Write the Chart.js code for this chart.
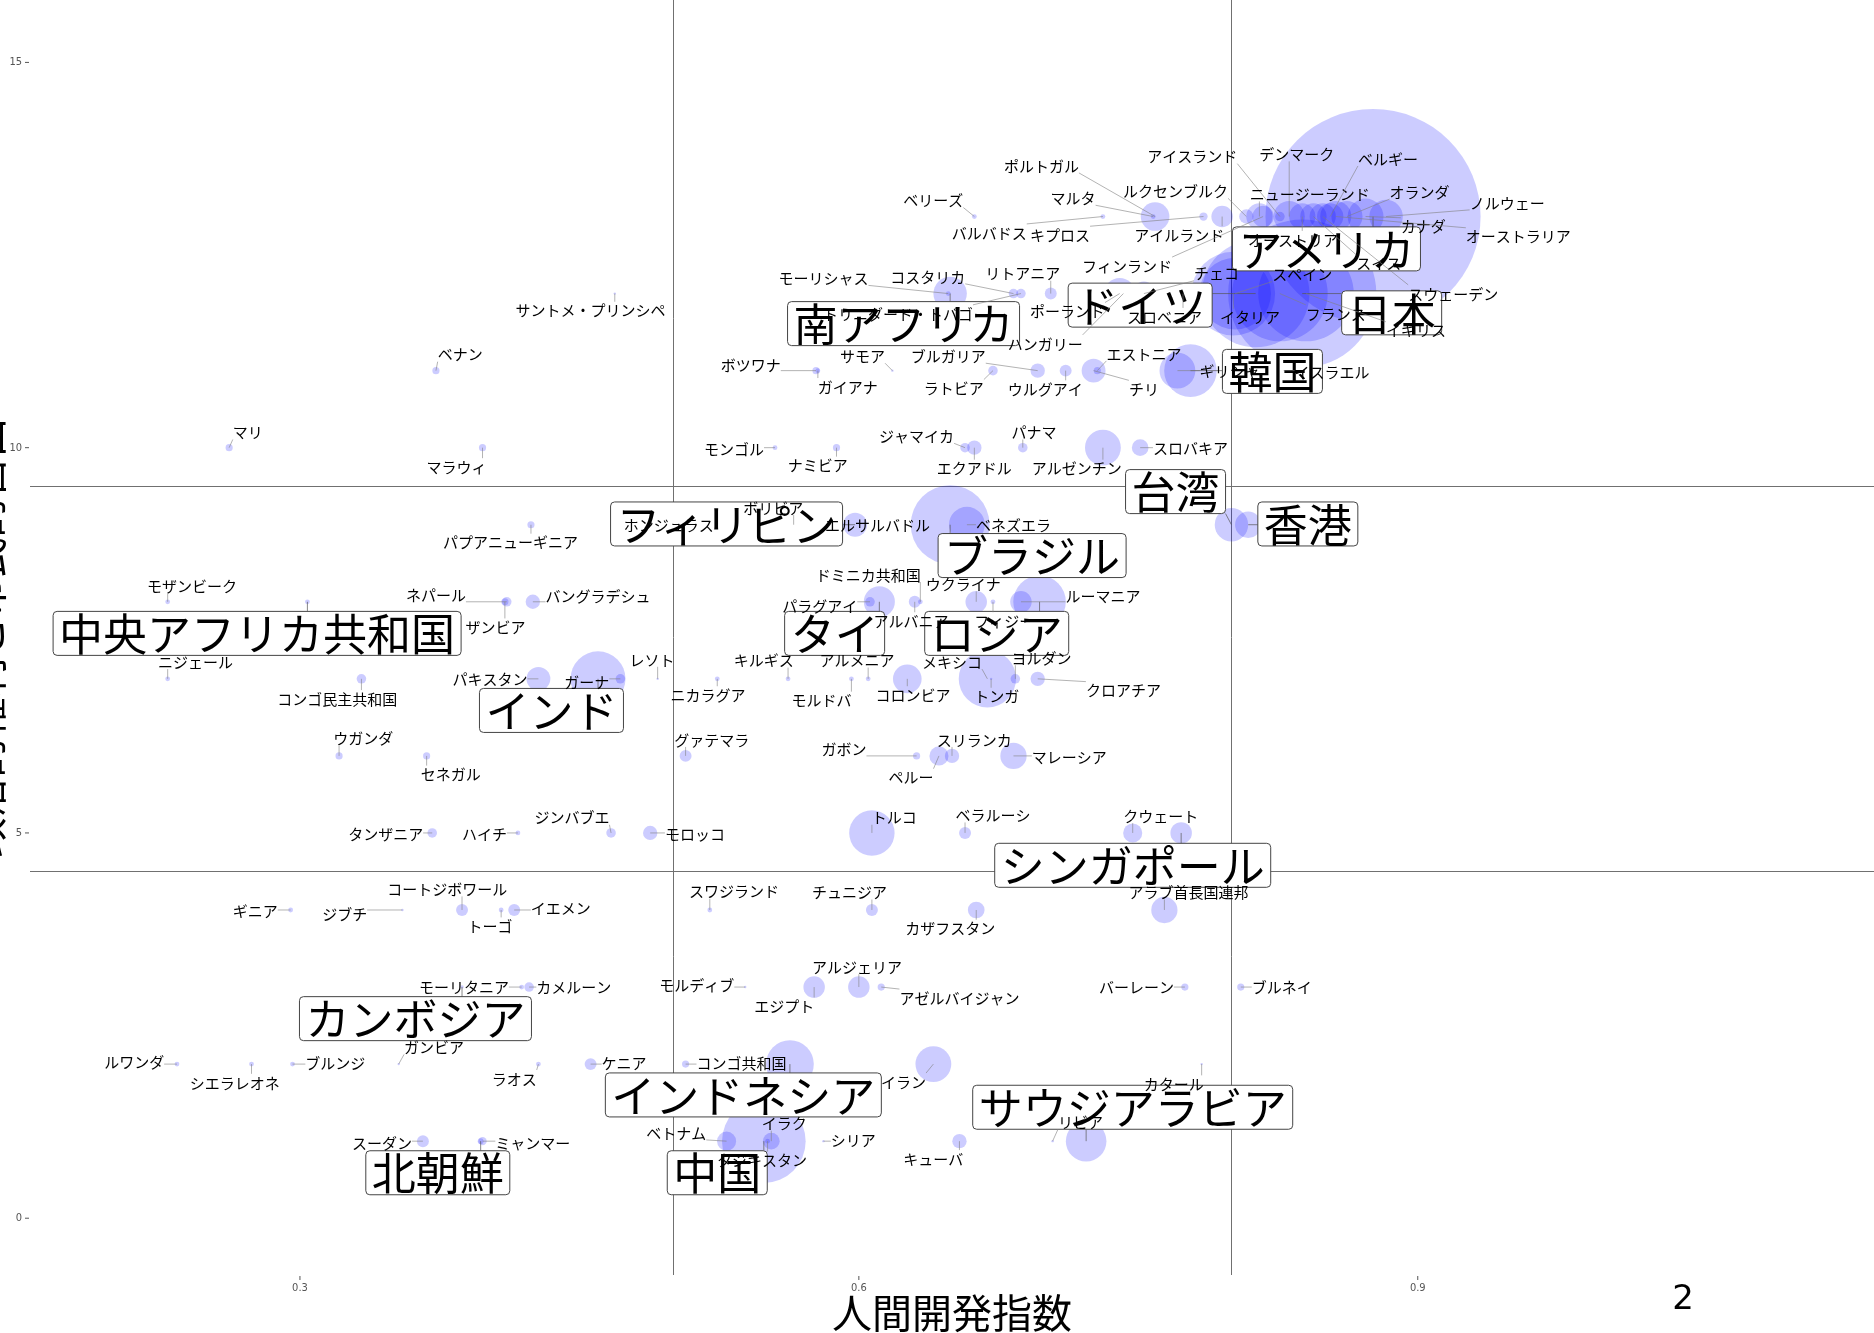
<!DOCTYPE html>
<html>
<head>
<meta charset="utf-8">
<script src="https://cdn.jsdelivr.net/npm/chart.js@4.4.1/dist/chart.umd.min.js"></script>
<style>
  html, body { margin: 0; padding: 0; background: #fff; overflow: hidden; }
  #wrap { width: 1874px; height: 1333px; }
</style>
</head>
<body>
<div id="wrap"><canvas id="hdiChart"></canvas></div>
<script>
// countries, grouped by freedom score row (13 at top ... 1 at bottom)
const countries = [
  "ポルトガル","マルタ","ベリーズ","バルバドス","キプロス","アイルランド","ルクセンブルク","アイスランド","デンマーク","ニュージーランド",
  "ベルギー","オランダ","ノルウェー","カナダ","オーストラリア","スイス","オーストリア","アメリカ","スウェーデン","フィンランド",
  "日本","ドイツ","フランス","イギリス","イタリア","スペイン","チェコ","スロベニア","ポーランド","ハンガリー",
  "リトアニア","コスタリカ","トリニダード・トバゴ","モーリシャス","南アフリカ","サントメ・プリンシペ",
  "ベナン","ボツワナ","ガイアナ","サモア","ブルガリア","ラトビア","ウルグアイ","エストニア","チリ","ギリシャ","韓国","イスラエル",
  "マリ","マラウィ","モンゴル","ナミビア","ジャマイカ","エクアドル","パナマ","アルゼンチン","スロバキア",
  "パプアニューギニア","ホンジュラス","ボリビア","フィリピン","エルサルバドル","ブラジル","ベネズエラ","台湾","香港",
  "モザンビーク","中央アフリカ共和国","ネパール","ザンビア","バングラデシュ","ドミニカ共和国","パラグアイ","タイ","アルバニア","ウクライナ","フィジー","ルーマニア","ロシア",
  "ニジェール","コンゴ民主共和国","パキスタン","インド","ガーナ","レソト","ニカラグア","キルギス","モルドバ","アルメニア","コロンビア","メキシコ","トンガ","ヨルダン","クロアチア",
  "ウガンダ","セネガル","グァテマラ","ガボン","ペルー","スリランカ","マレーシア",
  "タンザニア","ハイチ","ジンバブエ","モロッコ","トルコ","ベラルーシ","クウェート","シンガポール",
  "ギニア","ジブチ","コートジボワール","トーゴ","イエメン","スワジランド","チュニジア","カザフスタン","アラブ首長国連邦",
  "モーリタニア","カメルーン","カンボジア","モルディブ","エジプト","アルジェリア","アゼルバイジャン","バーレーン","ブルネイ",
  "ルワンダ","シエラレオネ","ブルンジ","ガンビア","ラオス","ケニア","コンゴ共和国","インドネシア","イラン","カタール",
  "スーダン","ミャンマー","北朝鮮","ベトナム","イラク","中国","タジキスタン","シリア","キューバ","リビア","サウジアラビア"
];

const hdi = [
  0.759,0.758,0.662,0.731,0.785,0.795,0.808,0.826,0.831,0.815,
  0.853,0.862,0.883,0.872,0.856,0.844,0.838,0.876,0.849,0.817,
  0.838,0.813,0.826,0.840,0.801,0.802,0.753,0.774,0.740,0.742,
  0.703,0.683,0.687,0.648,0.649,0.469,
  0.373,0.577,0.578,0.618,0.696,0.672,0.711,0.728,0.726,0.771,0.778,0.828,
  0.262,0.398,0.555,0.588,0.657,0.662,0.688,0.731,0.751,
  0.424,0.524,0.565,0.598,0.590,0.649,0.658,0.800,0.809,
  0.229,0.304,0.411,0.410,0.425,0.633,0.606,0.611,0.630,0.663,0.672,0.687,0.697,
  0.229,0.333,0.428,0.460,0.472,0.492,0.524,0.562,0.596,0.605,0.626,0.669,0.671,0.684,0.696,
  0.321,0.368,0.507,0.631,0.643,0.650,0.683,
  0.371,0.417,0.467,0.488,0.607,0.657,0.747,0.773,
  0.295,0.355,0.387,0.408,0.415,0.520,0.607,0.663,0.764,
  0.419,0.423,0.387,0.539,0.576,0.600,0.612,0.775,0.805,
  0.234,0.274,0.296,0.353,0.428,0.456,0.507,0.563,0.640,0.784,
  0.366,0.398,0.397,0.529,0.553,0.549,0.551,0.581,0.654,0.704,0.722
];

const freedom = [
  13,13,13,13,13,13,13,13,13,13,
  13,13,13,13,13,13,13,13,13,13,
  12,12,12,12,12,12,12,12,12,12,
  12,12,12,12,12,12,
  11,11,11,11,11,11,11,11,11,11,11,11,
  10,10,10,10,10,10,10,10,10,
  9,9,9,9,9,9,9,9,9,
  8,8,8,8,8,8,8,8,8,8,8,8,8,
  7,7,7,7,7,7,7,7,7,7,7,7,7,7,7,
  6,6,6,6,6,6,6,
  5,5,5,5,5,5,5,5,
  4,4,4,4,4,4,4,4,4,
  3,3,3,3,3,3,3,3,3,
  2,2,2,2,2,2,2,2,2,2,
  1,1,1,1,1,1,1,1,1,1,1
];

// bubble magnitude (relative units, area-proportional)
const magnitude = [
  144,4,4,4,12,81,36,16,169,121,
  121,169,196,225,169,121,121,8100,121,81,
  3844,2025,1600,1600,1225,900,100,25,169,64,
  25,16,16,4,196,1,
  9,9,4,1,36,16,25,9,100,225,484,64,
  9,9,4,9,16,36,16,225,49,
  9,4,9,100,9,1089,225,196,121,
  4,4,16,9,36,4,16,169,25,81,4,81,484,
  4,16,100,529,16,1,4,4,4,4,144,576,1,16,36,
  9,9,25,9,64,36,121,
  16,4,16,36,361,25,64,81,
  4,1,25,4,25,4,25,49,121,
  4,16,2,1,81,81,9,9,9,
  4,4,4,1,4,25,9,400,225,1,
  25,12,6,64,49,1225,4,1,36,1,289
];

// where each (repelled) label sits, in axis units
const labelHdi = [
  0.698,0.715,0.640,0.670,0.708,0.772,0.770,0.779,0.835,0.842,
  0.884,0.901,0.948,0.903,0.954,0.879,0.833,0.851,0.919,0.744,
  0.886,0.751,0.856,0.899,0.810,0.838,0.792,0.764,0.712,0.700,
  0.688,0.637,0.621,0.581,0.624,0.456,
  0.386,0.542,0.594,0.602,0.648,0.651,0.700,0.753,0.753,0.799,0.822,0.854,
  0.272,0.384,0.533,0.578,0.631,0.662,0.694,0.717,0.778,
  0.413,0.498,0.554,0.529,0.610,0.693,0.683,0.770,0.841,
  0.242,0.277,0.373,0.405,0.460,0.605,0.579,0.587,0.628,0.656,0.678,0.731,0.674,
  0.244,0.320,0.402,0.435,0.454,0.489,0.519,0.549,0.580,0.599,0.629,0.650,0.674,0.698,0.742,
  0.334,0.381,0.521,0.592,0.628,0.662,0.713,
  0.346,0.399,0.446,0.512,0.619,0.672,0.762,0.747,
  0.276,0.324,0.379,0.402,0.440,0.533,0.595,0.649,0.777,
  0.388,0.447,0.362,0.513,0.560,0.599,0.654,0.749,0.827,
  0.211,0.265,0.319,0.372,0.415,0.474,0.537,0.538,0.624,0.769,
  0.344,0.425,0.374,0.502,0.560,0.524,0.548,0.597,0.640,0.719,0.747
];

const labelFreedom = [
  13.67,13.25,13.22,12.80,12.77,12.77,13.34,13.79,13.82,13.30,
  13.76,13.33,13.19,12.88,12.75,12.40,12.71,12.58,12.01,12.37,
  11.75,11.85,11.75,11.53,11.70,12.26,12.27,11.71,11.78,11.36,
  12.27,12.23,11.75,12.21,11.61,11.79,
  11.22,11.08,10.80,11.20,11.20,10.78,10.77,11.23,10.77,11.00,10.99,10.99,
  10.21,9.76,9.99,9.78,10.16,9.74,10.21,9.74,10.01,
  8.78,9.01,9.23,9.01,9.01,8.60,9.01,9.43,9.01,
  8.22,7.59,8.10,7.68,8.08,8.36,7.96,7.59,7.76,8.24,7.76,8.08,7.59,
  7.23,6.75,7.01,6.59,6.97,7.26,6.80,7.25,6.73,7.25,6.80,7.23,6.78,7.28,6.86,
  6.24,5.77,6.22,6.10,5.73,6.22,5.99,
  5.00,5.00,5.21,5.00,5.21,5.24,5.23,4.58,
  4.00,3.96,4.28,3.80,4.03,4.25,4.24,3.77,4.24,
  3.01,3.01,2.59,3.03,2.76,3.27,2.87,3.01,3.01,
  2.03,1.77,2.02,2.23,1.82,2.02,2.02,1.60,1.78,1.75,
  0.99,0.99,0.59,1.12,1.24,0.59,0.76,1.02,0.78,1.26,1.44
];

const highlighted = ["アメリカ","日本","ドイツ","南アフリカ","韓国","台湾","香港","フィリピン","ブラジル",
  "中央アフリカ共和国","タイ","ロシア","インド","シンガポール","カンボジア","インドネシア","サウジアラビア","北朝鮮","中国"];

const xTicks = [0.3, 0.6, 0.9];
const yTicks = [0, 5, 10, 15];
const hdiCuts = [0.5, 0.8];
const freedomCuts = [9.5, 4.5];

const xTitle = "人間開発指数";
const yTitle = "政治的権利と市民的自由";
const cornerNote = "2";

const JP = '"Noto Sans CJK JP", "Noto Sans CJK SC", sans-serif';
const RADIUS_PX = 1.195;

const points = countries.map((c, i) => ({
  x: hdi[i], y: freedom[i], r: Math.sqrt(magnitude[i]) * RADIUS_PX
}));

function nearestOnRect(px, py, x0, y0, x1, y1) {
  return [Math.min(Math.max(px, x0), x1), Math.min(Math.max(py, y0), y1)];
}

const guideLines = {
  id: 'guideLines',
  beforeDatasetsDraw(chart) {
    const { ctx, chartArea: a, scales: { x, y } } = chart;
    ctx.save();
    ctx.strokeStyle = '#707070';
    ctx.lineWidth = 1;
    hdiCuts.forEach(v => {
      const px = Math.round(x.getPixelForValue(v)) + 0.5;
      ctx.beginPath(); ctx.moveTo(px, a.top); ctx.lineTo(px, a.bottom); ctx.stroke();
    });
    freedomCuts.forEach(v => {
      const py = Math.round(y.getPixelForValue(v)) + 0.5;
      ctx.beginPath(); ctx.moveTo(a.left, py); ctx.lineTo(a.right, py); ctx.stroke();
    });
    ctx.restore();
  }
};

const repelLabels = {
  id: 'repelLabels',
  afterDatasetsDraw(chart) {
    const { ctx, scales: { x, y } } = chart;
    const meta = chart.getDatasetMeta(0);
    ctx.save();
    ctx.textAlign = 'center';
    ctx.textBaseline = 'middle';

    // boxed labels first
    ctx.font = '44px ' + JP;
    countries.forEach((name, i) => {
      if (!highlighted.includes(name)) return;
      const cx = x.getPixelForValue(labelHdi[i]);
      const cy = y.getPixelForValue(labelFreedom[i]);
      const w = ctx.measureText(name).width + 12, h = 44;
      const x0 = cx - w / 2, y0 = cy - h / 2;
      const pt = meta.data[i];
      const [ex, ey] = nearestOnRect(pt.x, pt.y, x0, y0, x0 + w, y0 + h);
      if (Math.hypot(pt.x - ex, pt.y - ey) > 8) {
        ctx.strokeStyle = '#555'; ctx.lineWidth = 0.7;
        ctx.beginPath(); ctx.moveTo(ex, ey); ctx.lineTo(pt.x, pt.y); ctx.stroke();
      }
      ctx.beginPath();
      ctx.roundRect(x0, y0, w, h, 4);
      ctx.fillStyle = '#fff'; ctx.fill();
      ctx.strokeStyle = '#444'; ctx.lineWidth = 1; ctx.stroke();
      ctx.fillStyle = '#000';
      ctx.fillText(name, cx, cy + 1);
    });

    // plain labels with leader segments
    ctx.font = '15px ' + JP;
    countries.forEach((name, i) => {
      if (highlighted.includes(name)) return;
      const cx = x.getPixelForValue(labelHdi[i]);
      const cy = y.getPixelForValue(labelFreedom[i]);
      const w = ctx.measureText(name).width, h = 16;
      const x0 = cx - w / 2, y0 = cy - h / 2;
      const pt = meta.data[i];
      const [ex, ey] = nearestOnRect(pt.x, pt.y, x0, y0, x0 + w, y0 + h);
      if (Math.hypot(pt.x - ex, pt.y - ey) > 6) {
        ctx.strokeStyle = '#808080'; ctx.lineWidth = 0.6;
        ctx.beginPath(); ctx.moveTo(ex, ey); ctx.lineTo(pt.x, pt.y); ctx.stroke();
      }
      ctx.fillStyle = '#000';
      ctx.fillText(name, cx, cy + 1);
    });
    ctx.restore();
  }
};

const axisDecor = {
  id: 'axisDecor',
  afterDraw(chart) {
    const { ctx, chartArea: a, scales: { x, y } } = chart;
    ctx.save();
    ctx.fillStyle = '#555';
    ctx.strokeStyle = '#555';
    ctx.lineWidth = 1;
    ctx.font = '11px "DejaVu Sans Condensed", "DejaVu Sans", sans-serif';
    ctx.textAlign = 'right';
    ctx.textBaseline = 'middle';
    yTicks.forEach(v => {
      const py = y.getPixelForValue(v);
      ctx.fillText(String(v), a.left - 8, py);
      ctx.beginPath(); ctx.moveTo(a.left - 5, py); ctx.lineTo(a.left - 1, py); ctx.stroke();
    });
    ctx.textAlign = 'center';
    xTicks.forEach(v => {
      const px = x.getPixelForValue(v);
      ctx.beginPath(); ctx.moveTo(px, a.bottom + 1); ctx.lineTo(px, a.bottom + 5); ctx.stroke();
      ctx.fillText(v.toFixed(1), px, a.bottom + 13);
    });

    ctx.fillStyle = '#000';
    ctx.font = '40px ' + JP;
    ctx.fillText(xTitle, (a.left + a.right) / 2, 1313);

    ctx.save();
    ctx.translate(-13, (a.top + a.bottom) / 2);
    ctx.rotate(-Math.PI / 2);
    ctx.fillText(yTitle, 0, 0);
    ctx.restore();

    ctx.font = '34px "DejaVu Sans", sans-serif';
    ctx.fillText(cornerNote, 1683, 1300);
    ctx.restore();
  }
};

function draw() {
  new Chart(document.getElementById('hdiChart'), {
    type: 'bubble',
    data: {
      datasets: [{
        data: points,
        backgroundColor: 'rgba(0, 0, 255, 0.2)',
        borderWidth: 0,
        hoverRadius: 0
      }]
    },
    options: {
      responsive: true,
      maintainAspectRatio: false,
      animation: false,
      events: [],
      layout: { autoPadding: false, padding: { left: 30, right: 0, top: 0, bottom: 58 } },
      plugins: { legend: { display: false }, tooltip: { enabled: false } },
      scales: {
        x: { type: 'linear', min: 0.1551, max: 1.1449, display: false },
        y: { type: 'linear', min: -0.737, max: 15.81, display: false }
      }
    },
    plugins: [guideLines, repelLabels, axisDecor]
  });
}

if (document.fonts && document.fonts.load) {
  document.fonts.load('15px "Noto Sans CJK JP"').then(draw, draw);
} else {
  draw();
}
</script>
</body>
</html>
